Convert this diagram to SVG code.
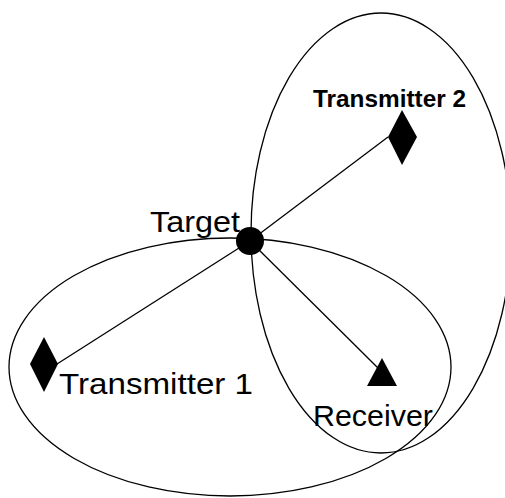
<svg xmlns="http://www.w3.org/2000/svg" width="505" height="498" viewBox="0 0 505 498">
<style>
.ell{fill:none;stroke:#000;stroke-width:1.3}
.con{stroke:#000;stroke-width:1.3;fill:none}
.shape{fill:#000;stroke:none}
.lbl{font-family:"Liberation Sans",Arial,sans-serif;font-size:29px;fill:#000}
.lblb{font-family:"Liberation Sans",Arial,sans-serif;font-size:24.5px;font-weight:bold;fill:#000}
</style>
<rect width="505" height="498" fill="#fff"/>
<g id="ellipses">
<ellipse class="ell" cx="230" cy="367" rx="221" ry="129"/>
<ellipse class="ell" cx="381" cy="233" rx="130" ry="220"/>
</g>
<g id="connectors">
<line class="con" x1="250" y1="241" x2="388" y2="137"/>
<line class="con" x1="250" y1="241" x2="57" y2="364"/>
<line class="con" x1="250" y1="241" x2="379" y2="369"/>
</g>
<g id="target">
<circle class="shape" cx="250" cy="241" r="14"/>
<text class="lbl" x="150" y="231.5" textLength="90" lengthAdjust="spacingAndGlyphs">Target</text>
</g>
<g id="tx2">
<polygon class="shape" points="402,110 417,137 402,165 388,137"/>
<text class="lblb" x="313" y="106.5" textLength="153" lengthAdjust="spacingAndGlyphs">Transmitter 2</text>
</g>
<g id="tx1">
<polygon class="shape" points="44,337 58,364 44,392 30,364"/>
<text class="lbl" x="59" y="394" textLength="194" lengthAdjust="spacingAndGlyphs">Transmitter 1</text>
</g>
<g id="receiver">
<polygon class="shape" points="382,358 397,386 367,386"/>
<text class="lbl" x="313" y="426" textLength="120" lengthAdjust="spacingAndGlyphs">Receiver</text>
</g>
</svg>
